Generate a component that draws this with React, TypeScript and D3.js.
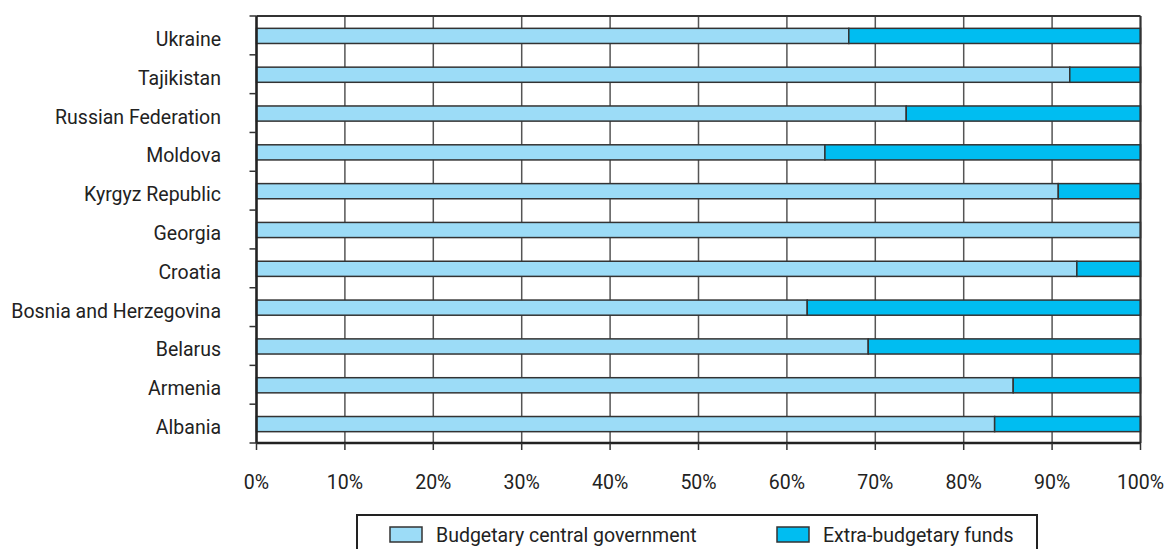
import React from "react";
import * as d3 from "d3";

const categories = [
  "Ukraine",
  "Tajikistan",
  "Russian Federation",
  "Moldova",
  "Kyrgyz Republic",
  "Georgia",
  "Croatia",
  "Bosnia and Herzegovina",
  "Belarus",
  "Armenia",
  "Albania",
];
const budgetary = [67.0, 92.0, 73.5, 64.3, 90.7, 100, 92.8, 62.3, 69.2, 85.6, 83.5];
const extraBudgetary = budgetary.map((v) => 100 - v);
const xTicks = [0, 10, 20, 30, 40, 50, 60, 70, 80, 90, 100];
const seriesNames = ["Budgetary central government", "Extra-budgetary funds"];
const colors = ["#9cdcf7", "#00bdf1"];

export default function App() {
  const W = 1166, H = 549;
  const left = 256.5, right = 1140.5, top = 16, bottom = 443;
  const x = d3.scaleLinear().domain([0, 100]).range([left, right]);
  const y = d3.scaleBand().domain(categories).range([top, bottom]).paddingInner(0.61).paddingOuter(0.305);
  const band = (bottom - top) / categories.length;
  const font = "Roboto, 'Liberation Sans', sans-serif";
  const fs = 19.5;
  const stroke = "#333";
  return (
    <svg width={W} height={H} style={{ position: "absolute", left: 0, top: 0, background: "#fff" }}>
      {/* gridlines */}
      {xTicks.map((t) => (
        <line key={"g" + t} x1={x(t)} x2={x(t)} y1={top} y2={bottom} stroke="#555" strokeWidth={1.5} />
      ))}
      {/* bars */}
      {categories.map((c, i) => {
        const b = budgetary[i];
        const e = extraBudgetary[i];
        return (
          <g key={c}>
            <rect x={x(0)} y={y(c)! + 0.5} width={x(b) - x(0)} height={y.bandwidth()} fill={colors[0]} stroke={stroke} strokeWidth={1.5} />
            {e > 0 && (
              <rect x={x(b)} y={y(c)! + 0.5} width={x(100) - x(b)} height={y.bandwidth()} fill={colors[1]} stroke={stroke} strokeWidth={1.5} />
            )}
          </g>
        );
      })}
      {/* frame */}
      <line x1={left} x2={right} y1={top} y2={top} stroke={stroke} strokeWidth={2} />
      <line x1={right} x2={right} y1={top} y2={bottom} stroke={stroke} strokeWidth={2} />
      <line x1={left} x2={right} y1={bottom} y2={bottom} stroke="#222" strokeWidth={2.5} />
      <line x1={left} x2={left} y1={top} y2={bottom} stroke="#222" strokeWidth={2.5} />
      {/* y ticks */}
      {d3.range(categories.length + 1).map((i) => (
        <line key={"yt" + i} x1={left - 7} x2={left} y1={top + i * band} y2={top + i * band} stroke={stroke} strokeWidth={1.5} />
      ))}
      {/* x ticks */}
      {xTicks.map((t) => (
        <line key={"xt" + t} x1={x(t)} x2={x(t)} y1={bottom} y2={bottom + 7} stroke={stroke} strokeWidth={1.5} />
      ))}
      {/* labels */}
      {categories.map((c) => (
        <text key={"l" + c} x={221} y={y(c)! + y.bandwidth() / 2 + 10.5} textAnchor="end" fontFamily={font} fontSize={fs} fill="#222">
          {c}
        </text>
      ))}
      {xTicks.map((t) => (
        <text key={"xl" + t} x={x(t)} y={488.5} textAnchor="middle" fontFamily={font} fontSize={fs} fill="#222">
          {t}%
        </text>
      ))}
      {/* legend */}
      <rect x={357} y={515} width={680} height={50} fill="#fff" stroke="#222" strokeWidth={2} />
      {seriesNames.map((s, i) => {
        const lx = i === 0 ? 390 : 777;
        return (
          <g key={s}>
            <rect x={lx} y={527} width={32} height={15} fill={colors[i]} stroke={stroke} strokeWidth={1.5} />
            <text x={lx + 46} y={541.5} fontFamily={font} fontSize={fs} fill="#222">
              {s}
            </text>
          </g>
        );
      })}
    </svg>
  );
}
